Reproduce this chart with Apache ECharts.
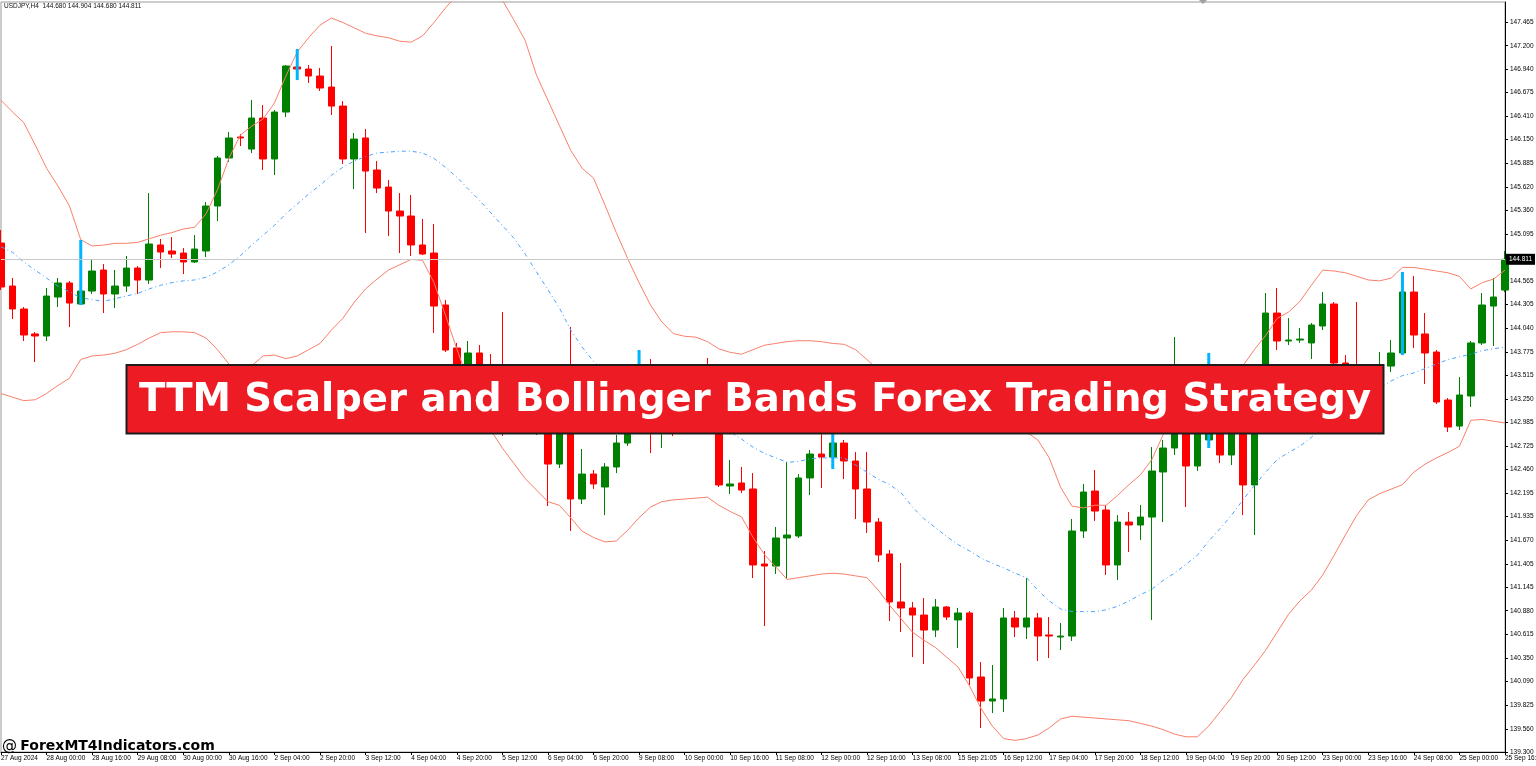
<!DOCTYPE html>
<html><head><meta charset="utf-8">
<script src="https://cdn.jsdelivr.net/npm/echarts@6/dist/echarts.min.js"></script>
<style>html,body{margin:0;padding:0;background:#fff;}#c{width:1536px;height:766px;}</style>
</head><body><div id="c"></div>
<script>
const headerText = 'USDJPY,H4  144.680 144.904 144.680 144.811';
const titleText = 'TTM Scalper and Bollinger Bands Forex Trading Strategy';
const watermarkText = 'ForexMT4Indicators.com';
const lastPrice = 144.811;

const xTickLabels = ['27 Aug 2024','28 Aug 00:00','28 Aug 16:00','29 Aug 08:00','30 Aug 00:00','30 Aug 16:00','2 Sep 04:00','2 Sep 20:00','3 Sep 12:00','4 Sep 04:00','4 Sep 20:00','5 Sep 12:00','6 Sep 04:00','6 Sep 20:00','9 Sep 08:00','10 Sep 00:00','10 Sep 16:00','11 Sep 08:00','12 Sep 00:00','12 Sep 16:00','13 Sep 08:00','15 Sep 21:05','16 Sep 12:00','17 Sep 04:00','17 Sep 20:00','18 Sep 12:00','19 Sep 04:00','19 Sep 20:00','20 Sep 12:00','23 Sep 00:00','23 Sep 16:00','24 Sep 08:00','25 Sep 00:00','25 Sep 16:00'];

const yTickLabels = ['139.300','139.560','139.825','140.090','140.350','140.615','140.880','141.145','141.405','141.670','141.935','142.195','142.460','142.725','142.985','143.250','143.515','143.775','144.040','144.305','144.565','144.830','145.095','145.360','145.620','145.885','146.150','146.410','146.675','146.940','147.200','147.465'];

const opens = [144.993,144.512,144.255,143.976,143.953,144.389,144.546,144.311,144.456,144.691,
144.423,144.512,144.713,144.579,144.971,144.904,144.881,144.781,144.904,145.407,
145.944,146.179,146.044,146.391,145.933,146.458,146.962,146.939,146.861,146.738,
146.525,145.933,146.168,145.810,145.619,145.351,145.295,144.971,144.881,144.300,
143.819,143.293,143.763,143.628,143.461,143.125,143.237,142.957,143.013,142.521,
142.957,142.130,142.409,142.264,142.488,142.756,143.013,143.293,142.957,143.181,
143.013,143.237,143.349,142.957,142.275,142.309,142.242,141.403,141.380,141.694,
141.716,142.365,142.633,142.599,142.756,142.555,142.242,141.872,141.515,140.978,
140.911,140.832,140.664,140.922,140.777,140.855,140.139,139.870,139.893,140.799,
140.698,140.799,140.609,140.586,140.597,141.772,142.219,142.007,141.392,141.872,
141.839,141.928,142.432,142.700,143.125,142.499,142.790,143.069,142.622,143.069,
142.287,143.405,144.210,143.897,143.908,143.875,144.065,144.311,143.651,143.628,
143.349,143.405,143.617,143.763,144.445,143.976,143.774,143.237,142.946,143.282,
143.875,144.288,144.467];

const closes = [144.501,144.255,143.964,143.953,144.400,144.546,144.322,144.456,144.680,144.423,
144.512,144.713,144.579,144.982,144.892,144.870,144.781,144.926,145.407,145.944,
146.168,146.168,146.391,145.933,146.458,146.973,146.939,146.861,146.727,146.525,
145.933,146.156,145.798,145.608,145.351,145.295,144.971,144.870,144.288,143.796,
143.461,143.763,143.405,143.349,143.125,143.293,142.957,143.125,142.521,143.013,
142.130,142.409,142.298,142.488,142.756,143.013,143.293,143.013,143.181,143.013,
143.237,143.349,143.013,142.287,142.298,142.230,141.392,141.380,141.694,141.727,
142.365,142.633,142.599,142.756,142.555,142.242,141.872,141.504,140.978,140.911,
140.832,140.664,140.922,140.810,140.855,140.128,139.870,139.893,140.799,140.698,
140.799,140.597,140.597,140.597,141.772,142.208,141.995,141.392,141.872,141.839,
141.928,142.443,142.700,143.125,142.499,143.013,143.069,142.622,143.013,142.287,
143.293,144.210,143.897,143.908,143.919,144.076,144.311,143.651,143.628,143.349,
143.461,143.628,143.763,144.445,143.964,143.763,143.215,142.935,143.293,143.875,
144.300,144.389,144.811];

const highs = [145.138,144.602,144.277,143.998,144.490,144.602,144.568,145.027,144.803,144.758,
144.691,144.848,144.736,145.552,145.038,145.060,144.937,145.082,145.452,145.966,
146.235,146.212,146.593,146.537,146.481,146.984,147.163,146.984,146.950,147.197,
146.581,146.224,146.268,145.910,145.698,145.552,145.530,145.262,145.206,144.356,
143.875,143.897,143.852,143.752,144.221,143.405,143.349,143.259,143.125,143.125,
144.054,142.689,142.454,142.532,142.846,143.125,143.796,143.696,143.293,143.259,
143.349,143.517,143.707,143.069,142.566,142.488,142.420,141.548,141.817,142.544,
142.409,142.678,143.013,143.013,142.790,142.655,142.655,141.917,141.560,141.414,
140.978,141.022,141.011,140.933,140.911,140.877,140.306,140.273,140.911,140.877,
141.246,140.855,140.810,140.743,141.906,142.298,142.454,142.063,141.950,141.984,
142.063,142.711,142.790,143.942,143.237,143.125,143.763,143.181,143.125,143.181,
143.640,144.434,144.490,144.154,144.043,144.098,144.445,144.333,143.740,144.333,
143.573,143.774,143.908,144.669,144.624,144.210,143.796,143.259,143.494,143.897,
144.434,144.602,144.904];

const lows = [144.467,144.143,143.897,143.662,143.897,144.277,144.054,144.300,144.423,144.210,
144.266,144.445,144.423,144.535,144.713,144.825,144.646,144.769,144.836,145.239,
145.899,146.078,145.999,145.810,145.754,146.402,146.816,146.783,146.693,146.425,
145.877,145.597,145.105,145.552,145.071,144.881,144.848,144.859,143.987,143.774,
143.349,143.237,143.293,143.237,142.834,143.013,142.879,142.846,142.051,142.476,
141.772,142.074,142.242,141.950,142.420,142.723,142.957,142.644,142.700,142.834,
142.901,143.125,142.957,142.264,142.186,142.197,141.246,140.709,141.291,141.235,
141.694,142.174,142.253,142.465,142.353,141.906,141.750,141.425,140.765,140.642,
140.362,140.284,140.586,140.777,140.463,140.049,139.568,139.736,139.747,140.586,
140.564,140.318,140.351,140.441,140.542,141.694,141.884,141.280,141.224,141.537,
141.671,140.777,141.872,142.622,142.040,142.443,142.700,142.532,142.510,141.950,
141.727,143.349,143.796,143.852,143.875,143.696,144.020,143.517,143.461,143.237,
143.237,143.293,143.550,143.740,143.819,143.416,143.192,142.879,142.901,143.159,
143.852,143.841,144.445];

const bbUpper = [146.59,146.46,146.34,146.09,145.83,145.63,145.41,145.03,144.96,144.97,
144.99,144.99,145.00,145.04,145.08,145.11,145.15,145.17,145.32,145.59,
145.94,146.20,146.30,146.38,146.56,146.86,147.13,147.29,147.43,147.51,
147.46,147.40,147.34,147.31,147.29,147.25,147.24,147.31,147.46,147.62,
147.77,147.93,147.99,147.88,147.71,147.49,147.26,146.87,146.59,146.31,
146.03,145.83,145.72,145.42,145.11,144.82,144.55,144.30,144.11,143.98,
143.95,143.94,143.89,143.81,143.77,143.75,143.80,143.85,143.87,143.89,
143.90,143.90,143.89,143.87,143.86,143.80,143.69,143.57,143.51,143.44,
143.37,143.31,143.26,143.20,143.15,143.10,143.04,142.98,142.92,142.90,
142.88,142.79,142.59,142.26,142.05,142.03,142.06,142.06,142.17,142.29,
142.40,142.57,142.85,142.96,143.07,143.18,143.29,143.37,143.46,143.62,
143.80,143.96,144.15,144.22,144.34,144.52,144.69,144.68,144.66,144.62,
144.58,144.57,144.60,144.72,144.72,144.70,144.68,144.66,144.62,144.48,
144.55,144.59,144.69];

const bbMiddle = [144.95,144.89,144.78,144.69,144.60,144.51,144.45,144.38,144.36,144.34,
144.37,144.40,144.43,144.48,144.52,144.55,144.57,144.58,144.61,144.67,
144.75,144.85,144.97,145.08,145.19,145.32,145.43,145.54,145.64,145.75,
145.84,145.91,145.96,146.00,146.01,146.02,146.02,146.00,145.94,145.84,
145.73,145.60,145.47,145.33,145.19,145.05,144.87,144.67,144.47,144.27,
144.02,143.83,143.67,143.55,143.45,143.37,143.30,143.24,143.17,143.10,
143.05,143.00,142.96,142.91,142.88,142.80,142.71,142.64,142.59,142.54,
142.55,142.58,142.59,142.59,142.59,142.51,142.43,142.35,142.29,142.20,
142.04,141.91,141.81,141.71,141.62,141.55,141.47,141.41,141.36,141.30,
141.25,141.11,140.99,140.90,140.87,140.87,140.87,140.89,140.93,140.99,
141.06,141.12,141.22,141.30,141.40,141.50,141.66,141.80,141.95,142.12,
142.28,142.43,142.57,142.65,142.72,142.82,142.93,143.02,143.11,143.19,
143.28,143.37,143.45,143.51,143.54,143.59,143.64,143.69,143.72,143.75,
143.79,143.81,143.83];

const bbLower = [143.31,143.27,143.23,143.24,143.31,143.40,143.48,143.69,143.73,143.74,
143.76,143.80,143.86,143.93,143.99,144.00,144.00,143.99,143.93,143.80,
143.64,143.55,143.62,143.73,143.74,143.70,143.73,143.80,143.87,144.02,
144.15,144.33,144.48,144.59,144.69,144.75,144.81,144.80,144.55,144.19,
143.81,143.46,143.18,142.90,142.70,142.53,142.36,142.23,142.10,142.06,
141.92,141.77,141.70,141.65,141.66,141.78,141.92,142.04,142.10,142.12,
142.13,142.14,142.15,142.06,141.99,141.93,141.70,141.51,141.37,141.23,
141.25,141.27,141.29,141.30,141.29,141.27,141.25,141.11,140.94,140.79,
140.64,140.55,140.47,140.36,140.25,140.04,139.79,139.59,139.45,139.43,
139.45,139.49,139.57,139.67,139.70,139.69,139.68,139.67,139.66,139.65,
139.62,139.59,139.55,139.50,139.47,139.47,139.59,139.75,139.91,140.11,
140.27,140.44,140.64,140.84,140.99,141.11,141.28,141.50,141.73,141.95,
142.12,142.19,142.24,142.29,142.43,142.52,142.59,142.65,142.72,143.01,
143.02,143.00,142.98];

const ttmBars = [7, 26, 56, 73, 106, 123];

// ---- build ----
const categories = opens.map((_, i) => i % 4 === 0 ? xTickLabels[i / 4] : 'bar' + i);
const candles = opens.map((o, i) => [o, closes[i], lows[i], highs[i]]);
const yTickVals = yTickLabels.map(parseFloat);
const FONT = '"Liberation Sans", Arial, sans-serif';

const chart = echarts.init(document.getElementById('c'), null, {renderer: 'canvas'});
chart.setOption({
  animation: false,
  backgroundColor: '#ffffff',
  textStyle: {fontFamily: FONT},
  grid: {left: 1, right: 31, top: 2, bottom: 14, show: true, borderColor: '#9a9a9a', borderWidth: 1,
    containLabel: false, outerBoundsMode: 'none'},
  xAxis: {
    type: 'category', data: categories, boundaryGap: false,
    axisLine: {lineStyle: {color: '#000', width: 1}},
    axisTick: {interval: 3, length: 3, lineStyle: {color: '#000'}},
    axisLabel: {interval: 3, formatter: (v, i) => (i % 4 === 0 ? xTickLabels[i / 4] : ''),
      align: 'left', margin: 3, fontSize: 6.5, color: '#000', fontFamily: FONT, hideOverlap: false},
    splitLine: {show: false}
  },
  yAxis: {
    type: 'value', position: 'right', min: 139.3, max: 147.689, scale: true,
    axisLine: {show: true, lineStyle: {color: '#000', width: 1}},
    axisTick: {show: true, length: 3, customValues: yTickVals, lineStyle: {color: '#000'}},
    axisLabel: {customValues: yTickVals, formatter: v => v.toFixed(3), margin: 5,
      fontSize: 6.5, color: '#000', fontFamily: FONT},
    splitLine: {show: false}
  },
  series: [
    {
      type: 'line', data: [], z: 1, silent: true,
      markLine: {
        silent: true, symbol: ['none', 'none'], precision: 3,
        lineStyle: {color: '#c8c8c8', width: 1, type: 'solid'},
        label: {position: 'end', distance: 1, formatter: () => lastPrice.toFixed(3),
          backgroundColor: '#000', color: '#fff', padding: [2, 3, 2, 3], fontSize: 6.5, fontFamily: FONT},
        data: [{yAxis: lastPrice}]
      }
    },
    {
      type: 'candlestick', data: candles, barWidth: 7, z: 2,
      itemStyle: {color: '#008000', color0: '#ff0000', borderColor: '#008000', borderColor0: '#ff0000', borderWidth: 1}
    },
    {type: 'line', data: bbUpper, symbol: 'none', z: 3, silent: true, lineStyle: {color: '#f8806c', width: 1}},
    {type: 'line', data: bbLower, symbol: 'none', z: 3, silent: true, lineStyle: {color: '#f8806c', width: 1}},
    {type: 'line', data: bbMiddle, symbol: 'none', z: 3, silent: true, lineStyle: {color: '#4aa3ff', width: 1, type: [4, 3, 1, 3]}},
    {
      type: 'custom', z: 4, silent: true,
      data: ttmBars.map(i => [i, lows[i], highs[i]]),
      encode: {x: 0, y: [1, 2]},
      renderItem: (params, api) => {
        const a = api.coord([api.value(0), api.value(1)]);
        const b = api.coord([api.value(0), api.value(2)]);
        return {type: 'line', shape: {x1: a[0], y1: a[1], x2: b[0], y2: b[1]}, style: {stroke: '#00b4ff', lineWidth: 3}};
      }
    }
  ],
  graphic: [
    {type: 'text', x: 4, y: 3, z: 100, style: {text: headerText, font: '6.5px ' + FONT, fill: '#111', align: 'left', verticalAlign: 'top'}},
    {type: 'polygon', z: 100, shape: {points: [[1199, 0], [1207, 0], [1203, 4]]}, style: {fill: '#a0a0a0'}},
    {type: 'rect', z: 100, shape: {x: 126.5, y: 365, width: 1257, height: 68.5}, style: {fill: '#ed1c24', stroke: '#1c1c1c', lineWidth: 2}},
    {type: 'text', x: 755, y: 401, z: 101, style: {text: titleText, font: 'bold 38.6px "DejaVu Sans"', fill: '#ffffff', align: 'center', verticalAlign: 'middle'}},
    {type: 'text', x: 2, y: 746, z: 101, style: {
      text: '{a|@} {b|' + watermarkText + '}', align: 'left', verticalAlign: 'middle',
      rich: {a: {font: '15px "DejaVu Sans"', fill: '#000'}, b: {font: 'bold 14px "DejaVu Sans"', fill: '#000'}}
    }}
  ]
});
</script>
</body></html>
